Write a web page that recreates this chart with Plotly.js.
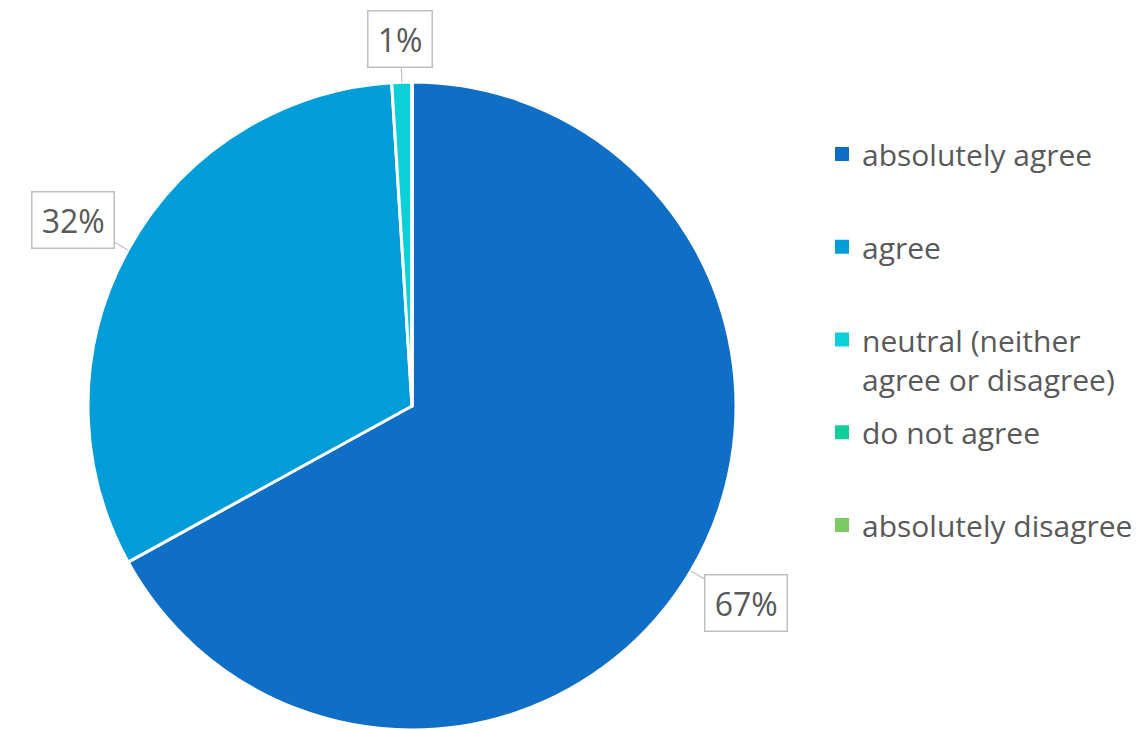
<!DOCTYPE html>
<html>
<head>
<meta charset="utf-8">
<script src="https://cdn.plot.ly/plotly-3.0.1.min.js"></script>
<style>html,body{margin:0;padding:0;background:#fff;overflow:hidden}#chart{width:1145px;height:730px}</style>
</head>
<body>
<div id="chart"></div>
<script>
// ---- data ----
const categories = ["absolutely agree", "agree", "neutral (neither<br>agree or disagree)", "do not agree", "absolutely disagree"];
const values = [67, 32, 1, 0, 0];
const colors = ["#0F6FC6", "#009DD9", "#0BD0D9", "#10CF9B", "#7CCA62"];

// ---- layout geometry ----
const W = 1145, H = 730;
const cx = 412, cy = 406, r = 324;        // pie centre / radius in px (top-down)
const FONT = "Open Sans, Noto Sans, sans-serif";
const TXT = "#595959";

const domain = {
  x: [(cx - r) / W, (cx + r) / W],
  y: [Math.max(0, (H - cy - r) / H), (H - cy + r) / H]
};

const trace = {
  type: "pie",
  labels: categories,
  values: values,
  sort: false,
  direction: "clockwise",
  rotation: 0,
  textinfo: "none",
  hoverinfo: "label+percent",
  marker: { colors: colors, line: { color: "#ffffff", width: 3 } },
  domain: domain,
  showlegend: false
};

const annotations = [];
const shapes = [];

// data-label callouts, anchored on the slice mid-angle at the rim
const total = values.reduce((a, b) => a + b, 0);
let cum = 0;
values.forEach((v, i) => {
  const mid = cum + v / 2;
  cum += v;
  if (v <= 0) return;
  const th = 2 * Math.PI * mid / total;
  const sx = Math.sin(th), sy = -Math.cos(th);
  const px = cx + r * sx, py = cy + r * sy;
  const bw = 41, bh = 27.5;
  const half = Math.min(Math.abs(sx) > 1e-6 ? bw / Math.abs(sx) : 1e9, Math.abs(sy) > 1e-6 ? bh / Math.abs(sy) : 1e9);
  const D = half + 16;
  annotations.push({
    x: px / W, y: 1 - py / H, xref: "paper", yref: "paper",
    text: "\u200A" + Math.round(100 * v / total) + "%\u200A",
    showarrow: true, arrowhead: 0, arrowwidth: 1.2, arrowcolor: "#BFBFBF",
    ax: sx * D, ay: sy * D, standoff: 0,
    font: { family: FONT, size: 32, color: TXT },
    bgcolor: "#ffffff", bordercolor: "#BFBFBF", borderwidth: 1.5, borderpad: 6
  });
});

// legend (built from the same arrays)
const legFs = 30;
const legTop = 154, legStep = 92.75;
categories.forEach((c, i) => {
  const yc = legTop + i * legStep;
  shapes.push({
    type: "rect", xref: "paper", yref: "paper",
    x0: 835 / W, x1: 849 / W, y0: 1 - (yc - 7) / H, y1: 1 - (yc + 7) / H,
    fillcolor: colors[i], line: { width: 0 }
  });
  annotations.push({
    x: 860 / W, y: 1 - (yc - 0.66 * legFs - 2) / H, xref: "paper", yref: "paper",
    xanchor: "left", yanchor: "top", align: "left",
    text: c, showarrow: false,
    font: { family: FONT, size: legFs, color: TXT }
  });
});

const layout = {
  width: W, height: H,
  margin: { l: 0, r: 0, t: 0, b: 0 },
  paper_bgcolor: "#ffffff",
  showlegend: false,
  annotations: annotations,
  shapes: shapes
};

Plotly.newPlot("chart", [trace], layout, { displayModeBar: false, staticPlot: true });
</script>
</body>
</html>
